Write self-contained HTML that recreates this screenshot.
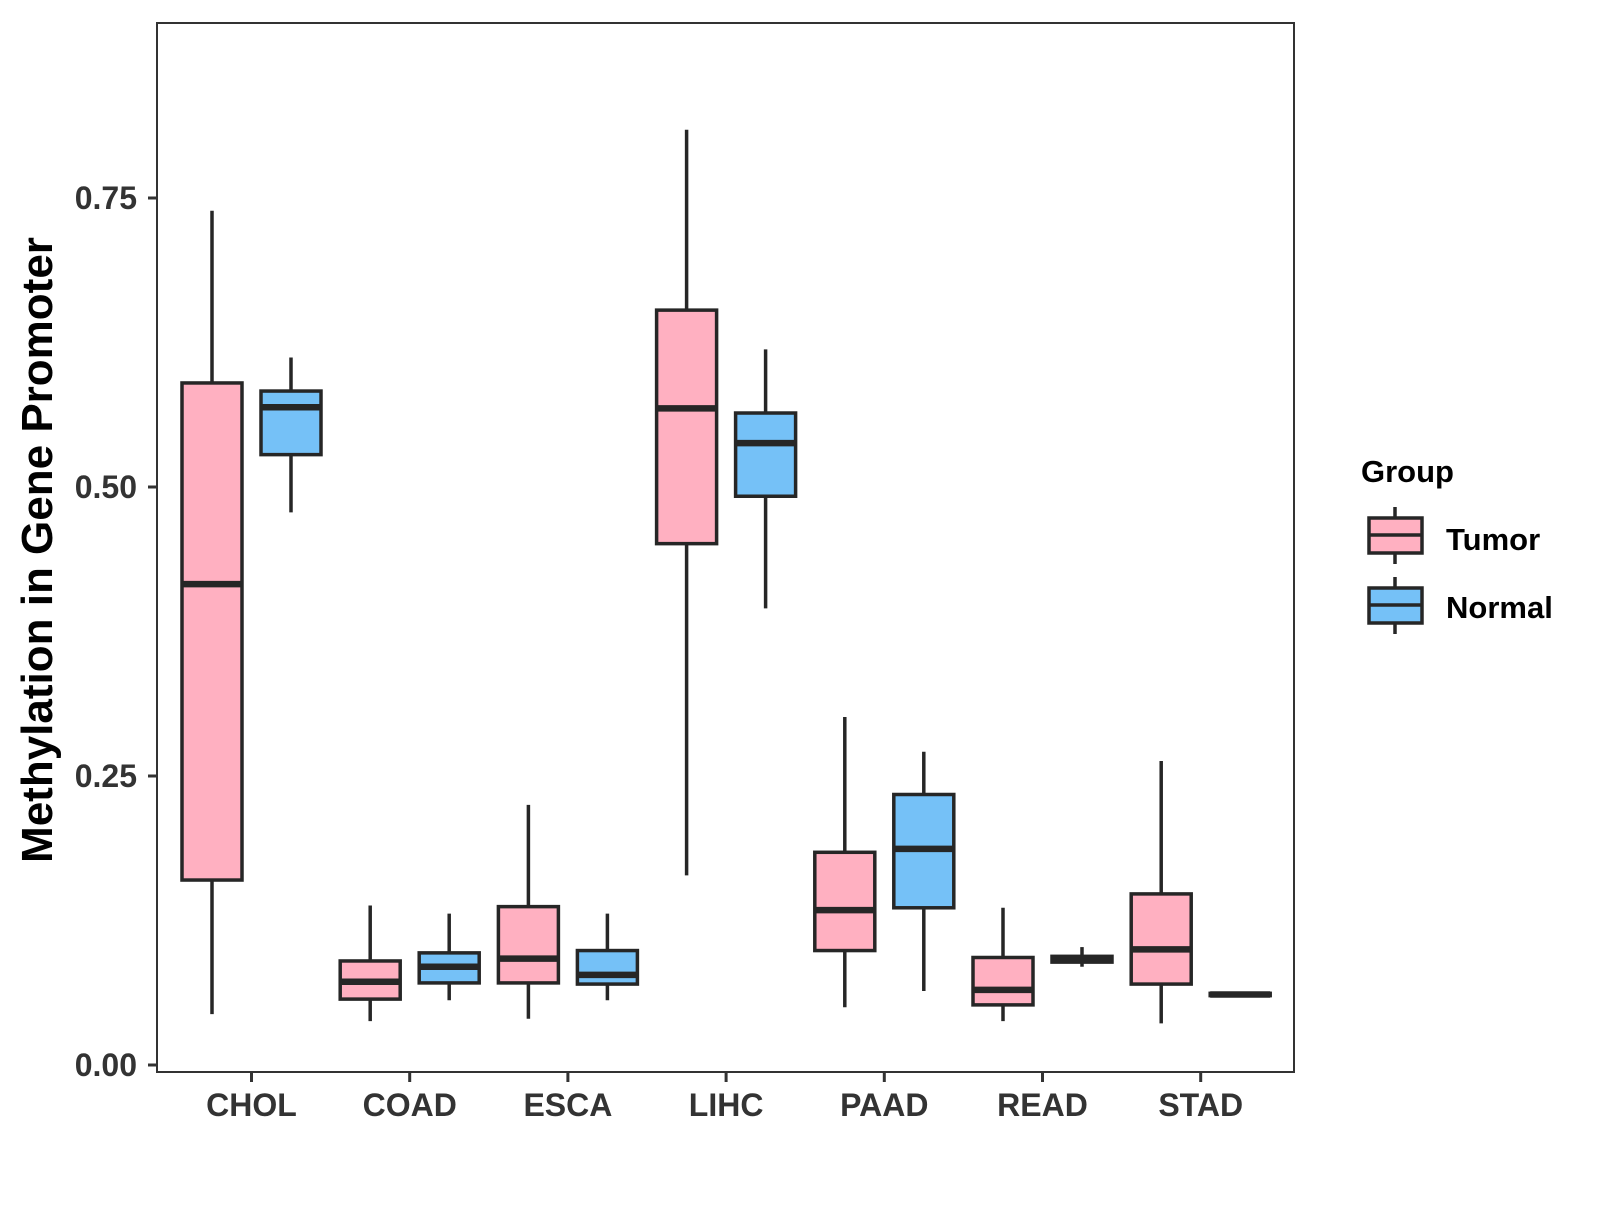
<!DOCTYPE html>
<html><head><meta charset="utf-8"><style>
body{margin:0;background:#fff}
svg text{font-family:"Liberation Sans",Arial,sans-serif;font-weight:bold}
</style></head><body>
<svg id="chart" width="1600" height="1200" viewBox="0 0 1600 1200" xmlns="http://www.w3.org/2000/svg">
<rect x="157" y="23" width="1137" height="1049" fill="#fff" stroke="#333" stroke-width="2"/>
<g id="marks"></g>
<g id="axes"></g>
<text transform="translate(52,550) rotate(-90)" text-anchor="middle" font-size="44" fill="#000">Methylation in Gene Promoter</text>
<g>
<text x="1361" y="482" font-size="31" fill="#000">Group</text>
<g>
<line x1="1395" y1="507" x2="1395" y2="564" stroke="#262626" stroke-width="3.5"/>
<rect x="1369" y="518" width="53" height="35" fill="#FFB0C1" stroke="#262626" stroke-width="3.5"/>
<line x1="1369" y1="535" x2="1422" y2="535" stroke="#262626" stroke-width="3.5"/>
<text x="1446" y="550" font-size="31" fill="#000">Tumor</text>
</g>
<g>
<line x1="1395" y1="577" x2="1395" y2="634" stroke="#262626" stroke-width="3.5"/>
<rect x="1369" y="588" width="53" height="35" fill="#75C1F7" stroke="#262626" stroke-width="3.5"/>
<line x1="1369" y1="605" x2="1422" y2="605" stroke="#262626" stroke-width="3.5"/>
<text x="1446" y="618" font-size="31" fill="#000">Normal</text>
</g>
</g>
</svg>
<script>
const categories=["CHOL","COAD","ESCA","LIHC","PAAD","READ","STAD"];
// [min, q1, median, q3, max]
const tumorStats=[[0.044,0.160,0.416,0.590,0.739],[0.038,0.057,0.072,0.090,0.138],[0.040,0.071,0.092,0.137,0.225],[0.164,0.451,0.568,0.653,0.809],[0.050,0.099,0.134,0.184,0.301],[0.038,0.052,0.065,0.093,0.136],[0.036,0.070,0.100,0.148,0.263]];
const normalStats=[[0.478,0.528,0.569,0.583,0.612],[0.056,0.071,0.085,0.097,0.131],[0.056,0.070,0.078,0.099,0.131],[0.395,0.492,0.538,0.564,0.619],[0.064,0.136,0.187,0.234,0.271],[0.085,0.089,0.092,0.094,0.102],[0.059,0.060,0.061,0.062,0.063]];
const yTicks=[0,0.25,0.5,0.75];
const yTickLabels=["0.00","0.25","0.50","0.75"];
const NS="http://www.w3.org/2000/svg";
const y=v=>1065-v*(1065-198)/0.75;
const x=i=>251.5+i*158.2;
function mk(tag,attrs,parent){const e=document.createElementNS(NS,tag);for(const k in attrs)e.setAttribute(k,attrs[k]);parent.appendChild(e);return e;}
const marks=document.getElementById('marks'),axes=document.getElementById('axes');
function box(s,cx,fill,name){
  const g=mk('g',{},marks);
  
  
  mk('line',{x1:cx,x2:cx,y1:y(s[4]),y2:y(s[0]),stroke:'#262626','stroke-width':3.5},g);
  mk('rect',{x:cx-30,y:y(s[3]),width:60,height:Math.max(y(s[1])-y(s[3]),0.5),fill:fill,stroke:'#262626','stroke-width':3.5},g);
  mk('line',{x1:cx-30,x2:cx+30,y1:y(s[2]),y2:y(s[2]),stroke:'#262626','stroke-width':6.5},g);
}
categories.forEach((c,i)=>{
  box(tumorStats[i],x(i)-39.5,'#FFB0C1','box-tumor-'+c.toLowerCase());
  box(normalStats[i],x(i)+39.5,'#75C1F7','box-normal-'+c.toLowerCase());
  mk('line',{x1:x(i),x2:x(i),y1:1072,y2:1082,stroke:'#333','stroke-width':3},axes);
  const t=mk('text',{x:x(i),y:1116,'text-anchor':'middle','font-size':32,fill:'#333'},axes);
  
  
  t.textContent=c;
});
yTicks.forEach((v,i)=>{
  mk('line',{x1:148,x2:157,y1:y(v),y2:y(v),stroke:'#333','stroke-width':3},axes);
  const t=mk('text',{x:137,y:y(v)+11,'text-anchor':'end','font-size':32,fill:'#333'},axes);
  
  
  t.textContent=yTickLabels[i];
});
</script>
</body></html>
